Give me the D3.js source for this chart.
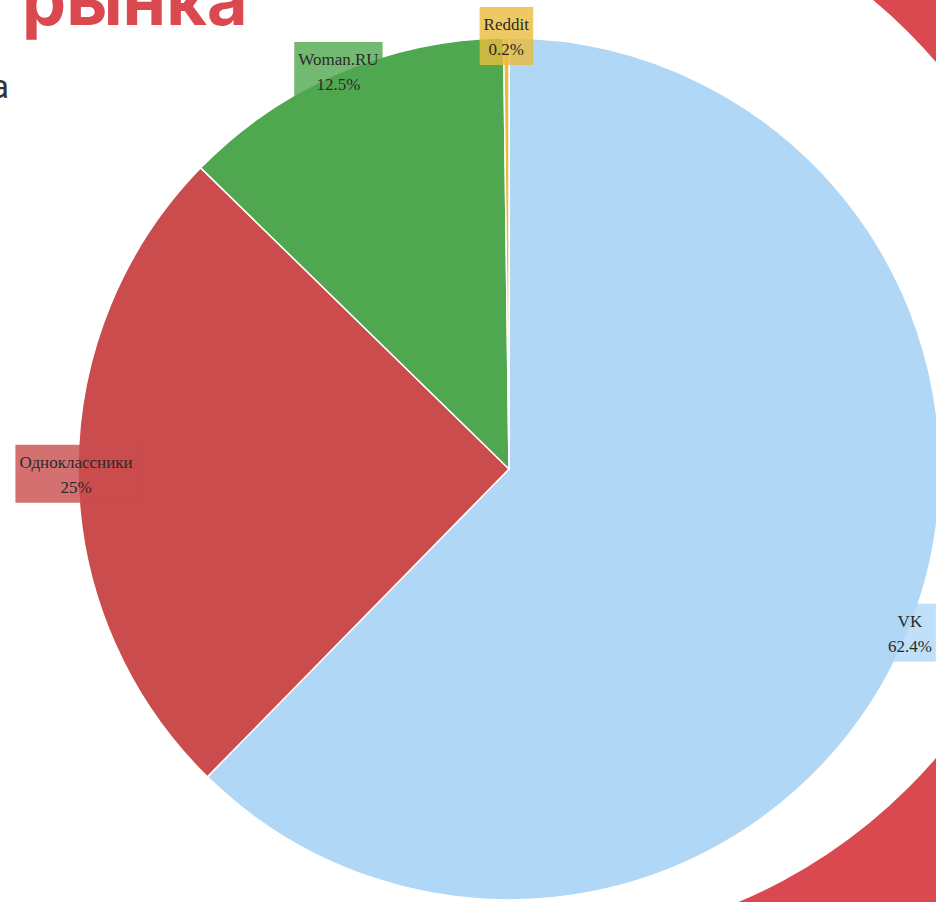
<!DOCTYPE html>
<html>
<head>
<meta charset="utf-8">
<script src="https://cdn.jsdelivr.net/npm/d3@7"></script>
<style>
  body { margin: 0; background: #fff; overflow: hidden; }
</style>
</head>
<body>
<div id="wrapper"></div>
<script>
/* market share pie - social networks */

const names = ["VK", "Одноклассники", "Woman.RU", "Reddit"];
const shares = [62.4, 25, 12.5, 0.2];
const labels = ["62.4%", "25%", "12.5%", "0.2%"];
const colors = ["#b0d7f6", "#cb4c4c", "#4fa84f", "#e8bb3c"];

function drawChart() {
  const dimensions = {
    width: 936,
    height: 902,
    cx: 509,
    cy: 469,
    radius: 431,
  }

  const wrapper = d3.select("#wrapper")
    .append("svg")
      .attr("width", dimensions.width)
      .attr("height", dimensions.height)

  /* background bits of the slide: red crescent on the right, the cut title */
  wrapper.append("circle")
    .attr("cx", 1300)
    .attr("cy", 410)
    .attr("r", 800)
    .attr("fill", "#da494f")
  wrapper.append("circle")
    .attr("cx", 531)
    .attr("cy", 410)
    .attr("r", 534)
    .attr("fill", "#fff")

  wrapper.append("text")
    .attr("x", 22)
    .attr("y", 25)
    .attr("fill", "#da494f")
    .style("font-family", "Inter, 'Open Sans', sans-serif")
    .style("font-weight", 700)
    .style("font-size", "70px")
    .text("рынка")

  wrapper.append("text")
    .attr("x", 9)
    .attr("y", 98)
    .attr("text-anchor", "end")
    .attr("fill", "#333")
    .style("font-family", "Roboto, sans-serif")
    .style("font-size", "33px")
    .text("а")

  /* pie */
  const data = names.map((n, i) => ({ name: n, value: shares[i], label: labels[i], color: colors[i] }))

  const pie = d3.pie()
    .sort(null)
    .value(d => d.value)

  const arc = d3.arc()
    .innerRadius(0)
    .outerRadius(dimensions.radius)

  const labelArc = d3.arc()
    .innerRadius(dimensions.radius + 2)
    .outerRadius(dimensions.radius + 2)

  const bounds = wrapper.append("g")
    .attr("transform", `translate(${dimensions.cx},${dimensions.cy})`)

  const arcs = pie(data)

  bounds.selectAll("path")
    .data(arcs)
    .enter().append("path")
      .attr("d", arc)
      .attr("fill", d => d.data.color)
      .attr("stroke", "#fff")
      .attr("stroke-width", 1.5)

  /* labels: box + two lines, centred on the rim */
  const lab = bounds.selectAll(".lab")
    .data(arcs)
    .enter().append("g")
      .attr("class", "lab")
      .attr("transform", d => `translate(${labelArc.centroid(d)})`)

  lab.append("rect")
    .attr("fill", d => d.data.color)
    .attr("opacity", 0.8)

  const txt = lab.append("text")
    .attr("text-anchor", "middle")
    .attr("fill", "#2a2a2a")
    .style("font-family", "'Liberation Serif', 'Times New Roman', serif")
    .style("font-size", "17px")

  txt.append("tspan")
    .attr("x", 0)
    .attr("y", -6)
    .text(d => d.data.name)
  txt.append("tspan")
    .attr("x", 0)
    .attr("y", 19)
    .text(d => d.data.label)

  txt.each(function(d) {
    const b = this.getBBox()
    d3.select(this.parentNode).select("rect")
      .attr("x", b.x - 4)
      .attr("y", -29)
      .attr("width", b.width + 8)
      .attr("height", 58)
  })
}
drawChart();
</script>
</body>
</html>
